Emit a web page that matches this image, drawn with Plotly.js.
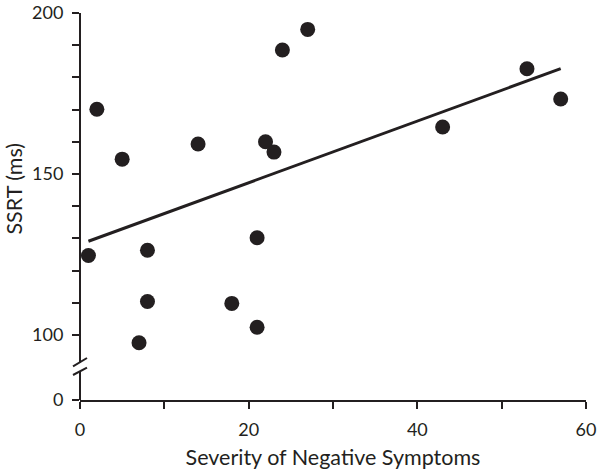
<!DOCTYPE html>
<html>
<head>
<meta charset="utf-8">
<script src="https://cdn.plot.ly/plotly-3.0.1.min.js"></script>
<style>html,body{margin:0;padding:0;background:#fff;}#chart{width:601px;height:474px;}</style>
</head>
<body>
<div id="chart"></div>
<script>
// Data
var severity = [1, 2, 5, 7, 8, 8, 14, 18, 21, 21, 22, 23, 24, 27, 43, 53, 57];
var ssrt = [124.7, 170.1, 154.6, 97.6, 126.3, 110.4, 159.3, 109.8, 130.2, 102.4, 160.0, 156.8, 188.5, 194.9, 164.6, 182.7, 173.3];
var fitX = [1, 57];
var fitY = [129.1, 182.7];
var xTickVals = [0, 10, 20, 30, 40, 50, 60];
var xTickText = ["0", "", "20", "", "40", "", "60"];
var yZeroPos = 79.8; // where "0" sits below the axis break
var yTickVals = [yZeroPos, 100, 110, 120, 130, 140, 150, 160, 170, 180, 190, 200];
var yTickText = ["0", "100", "", "", "", "", "150", "", "", "", "", "200"];
var xTitle = 'Severity of Negative Symptoms';
var yTitle = 'SSRT (ms)';

var ink = '#231f20';
var fontFam = 'Lato, "Open Sans", sans-serif';

var traces = [
  {x: fitX, y: fitY, type: 'scatter', mode: 'lines', line: {color: ink, width: 3}, hoverinfo: 'skip', showlegend: false},
  {x: severity, y: ssrt, type: 'scatter', mode: 'markers', marker: {color: ink, size: 15}, showlegend: false}
];

var layout = {
  width: 601, height: 474,
  margin: {l: 80, r: 15, t: 13, b: 74},
  paper_bgcolor: '#fff', plot_bgcolor: '#fff',
  font: {family: fontFam, color: ink, size: 18},
  showlegend: false,
  xaxis: {
    range: [0, 60], tickvals: xTickVals, ticktext: xTickText,
    ticks: 'outside', ticklen: 7, tickwidth: 2, tickcolor: ink,
    ticklabelstandoff: 5,
    showline: true, linewidth: 2, linecolor: ink,
    showgrid: false, zeroline: false,
    tickfont: {size: 18, color: ink, family: fontFam},
    title: {text: xTitle, font: {size: 21.5, color: ink, family: fontFam}, standoff: 11}
  },
  yaxis: {
    range: [yZeroPos, 200], tickvals: yTickVals, ticktext: yTickText,
    ticks: 'outside', ticklen: 7, tickwidth: 2, tickcolor: ink,
    ticklabelstandoff: 5,
    showline: false, showgrid: false, zeroline: false,
    tickfont: {size: 18, color: ink, family: fontFam}
  },
  annotations: [
    {text: yTitle, xref: 'paper', yref: 'paper', x: -0.1294, y: 0.545, xanchor: 'center', yanchor: 'middle',
     textangle: -90, showarrow: false, font: {size: 21.5, color: ink, family: fontFam}}
  ],
  shapes: [
    {type: 'line', xref: 'paper', yref: 'paper', x0: 0, x1: 0, y0: 0, y1: 0.0736, line: {color: ink, width: 2}},
    {type: 'line', xref: 'paper', yref: 'paper', x0: 0, x1: 0, y0: 0.0969, y1: 1, line: {color: ink, width: 2}},
    {type: 'line', xref: 'paper', yref: 'paper', x0: -0.0138, x1: 0.0138, y0: 0.0870, y1: 0.1085, line: {color: ink, width: 2}},
    {type: 'line', xref: 'paper', yref: 'paper', x0: -0.0138, x1: 0.0138, y0: 0.0646, y1: 0.0835, line: {color: ink, width: 2}}
  ]
};

Plotly.newPlot('chart', traces, layout, {staticPlot: true, displayModeBar: false});
</script>
</body>
</html>
